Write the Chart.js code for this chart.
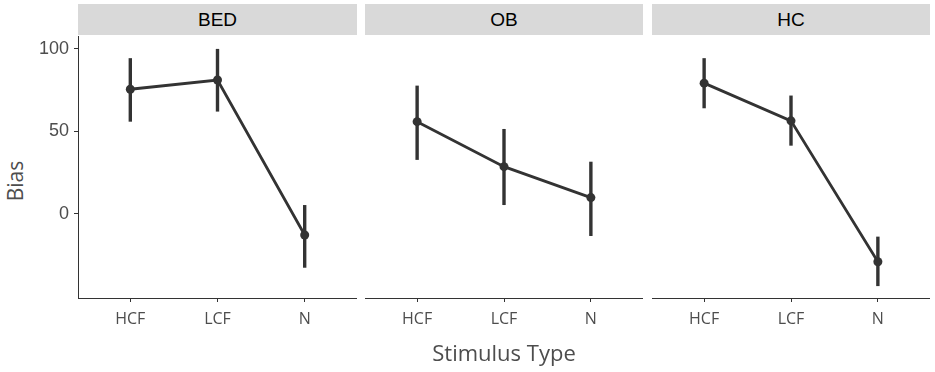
<!DOCTYPE html>
<html>
<head>
<meta charset="utf-8">
<script src="https://cdn.jsdelivr.net/npm/chart.js@4.4.1/dist/chart.umd.min.js"></script>
<style>
  body { margin: 0; background: #fff; }
  #wrap { position: relative; width: 935px; height: 372px; overflow: hidden; }
  canvas { position: absolute; top: 36px; }
  .strip {
    position: absolute; top: 4px; height: 31px; background: #d9d9d9;
    font: 19px "Liberation Sans", Arial, sans-serif; color: #000;
    display: flex; align-items: center; justify-content: center;
  }
  #ytitle {
    position: absolute; left: 15px; top: 181px; transform: translate(-50%, -50%) rotate(-90deg);
    font: 21px "Open Sans", sans-serif; color: #4d4d4d; white-space: nowrap;
  }
</style>
</head>
<body>
<div id="wrap">
  <div class="strip" style="left:78px;width:279px">BED</div>
  <div class="strip" style="left:365px;width:278px">OB</div>
  <div class="strip" style="left:652px;width:278px">HC</div>
  <div id="ytitle">Bias</div>
  <canvas id="bed" width="357" height="336" style="left:0"></canvas>
  <canvas id="ob" width="278" height="336" style="left:365px"></canvas>
  <canvas id="hc" width="278" height="336" style="left:652px"></canvas>
</div>
<script>
const categories = ['HCF', 'LCF', 'N'];
const yTicks = [0, 50, 100];

const bedMean = [75.4, 81.0, -12.7];
const bedLower = [55.8, 61.9, -32.5];
const bedUpper = [94.2, 99.8, 5.4];

const obMean = [55.8, 28.6, 9.9];
const obLower = [32.7, 5.4, -13.3];
const obUpper = [77.6, 51.4, 31.6];

const hcMean = [79.1, 56.3, -28.9];
const hcLower = [63.9, 41.3, -43.6];
const hcUpper = [94.2, 71.6, -13.7];

const INK = '#333333';
const TEXT = '#4d4d4d';

// vertical bars from lower to upper, drawn under the points
function errorBars(lower, upper) {
  return {
    id: 'errorBars',
    beforeDatasetsDraw(chart) {
      const { ctx, scales: { x, y } } = chart;
      ctx.save();
      ctx.strokeStyle = INK;
      ctx.lineWidth = 3.4;
      lower.forEach((lo, i) => {
        const px = x.getPixelForValue(i + 1);
        ctx.beginPath();
        ctx.moveTo(px, y.getPixelForValue(lo));
        ctx.lineTo(px, y.getPixelForValue(upper[i]));
        ctx.stroke();
      });
      ctx.restore();
    },
  };
}

function panel(id, mean, lower, upper, { showY = false, xTitle = '' } = {}) {
  const canvas = document.getElementById(id);
  return new Chart(canvas, {
    type: 'line',
    data: {
      datasets: [{
        data: categories.map((c, i) => ({ x: i + 1, y: mean[i] })),
        borderColor: INK,
        backgroundColor: INK,
        borderWidth: 2.8,
        pointRadius: 4.5,
        pointBorderWidth: 0,
        tension: 0,
      }],
    },
    options: {
      responsive: false,
      animation: false,
      devicePixelRatio: 1,
      layout: { padding: 0, autoPadding: false },
      plugins: { legend: { display: false }, tooltip: { enabled: false } },
      scales: {
        x: {
          type: 'linear',
          min: 0.4,
          max: 3.6,
          afterBuildTicks: (scale) => { scale.ticks = categories.map((c, i) => ({ value: i + 1 })); },
          afterFit: (scale) => {
            scale.height = 74;
            scale.paddingLeft = 0;
            scale.paddingRight = 0;
          },
          grid: { display: true, drawOnChartArea: false, drawTicks: true, tickLength: 4, color: INK },
          border: { display: true, color: INK, width: 1 },
          ticks: {
            padding: 8,
            color: TEXT,
            font: { family: 'Open Sans', size: 16 },
            maxRotation: 0,
            callback: (value) => categories[value - 1],
          },
          title: {
            display: !!xTitle,
            text: xTitle,
            color: TEXT,
            font: { family: 'Open Sans', size: 22 },
            padding: { top: 0, bottom: 4 },
          },
        },
        y: {
          display: showY,
          min: -50.8,
          max: 107.6,
          afterBuildTicks: (scale) => { scale.ticks = yTicks.map((v) => ({ value: v })); },
          afterFit: (scale) => {
            scale.width = showY ? 78 : 0;
            scale.paddingTop = 0;
            scale.paddingBottom = 0;
          },
          grid: { display: true, drawOnChartArea: false, drawTicks: true, tickLength: 4, color: INK },
          border: { display: true, color: INK, width: 1 },
          ticks: {
            padding: 5,
            color: TEXT,
            font: { family: 'Liberation Sans', size: 18 },
          },
        },
      },
    },
    plugins: [errorBars(lower, upper)],
  });
}

panel('bed', bedMean, bedLower, bedUpper, { showY: true });
panel('ob', obMean, obLower, obUpper, { xTitle: 'Stimulus Type' });
panel('hc', hcMean, hcLower, hcUpper);
</script>
</body>
</html>
